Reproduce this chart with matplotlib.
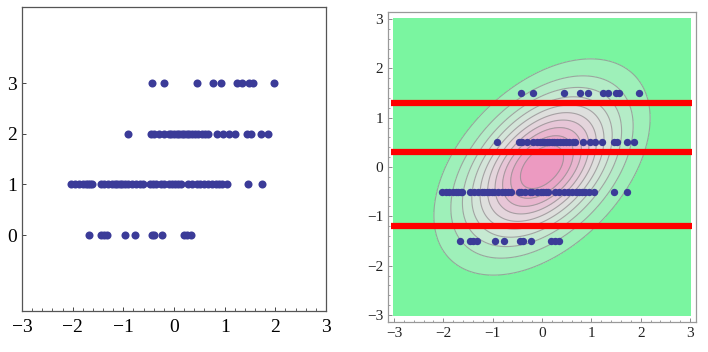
import matplotlib

matplotlib.use("Agg")
import matplotlib.pyplot as plt
import numpy as np
from matplotlib.ticker import MultipleLocator

plt.rcParams["font.family"] = ["Liberation Serif", "DejaVu Serif"]

# observed x values, one list per ordinal category (0..3)
cat0_x = [-1.67, -1.45, -1.39, -1.32, -0.96, -0.77, -0.44, -0.39, -0.23, 0.19, 0.26, 0.34]
cat1_x = [-2.03, -1.95, -1.88, -1.80, -1.74, -1.70, -1.65, -1.62,
          -1.45, -1.38, -1.30, -1.22, -1.17, -1.12, -1.07, -1.02, -0.97, -0.90, -0.82, -0.75, -0.68, -0.62,
          -0.47, -0.42, -0.35, -0.25, -0.20, -0.10, -0.03, 0.02, 0.08, 0.13,
          0.27, 0.35, 0.45, 0.52, 0.60, 0.68, 0.75, 0.82, 0.88, 0.95, 1.05,
          1.46, 1.73]
cat2_x = [-0.91,
          -0.46, -0.40, -0.30, -0.19, -0.10, -0.05, 0.00, 0.05, 0.10, 0.15, 0.20, 0.25, 0.30, 0.36, 0.42,
          0.48, 0.55, 0.62, 0.67,
          0.84, 0.97, 1.08, 1.21, 1.45, 1.52, 1.72, 1.86]
cat3_x = [-0.43, -0.19, 0.45, 0.76, 0.93, 1.24, 1.34, 1.49, 1.56, 1.97]

categories = [0, 1, 2, 3]
latent_y = [-1.5, -0.5, 0.5, 1.5]
thresholds = [-1.2, 0.3, 1.3]
rho = 0.45
n_contours = 10

DOT = "#3b3b98"
# fill colours from outside (green) to the centre (pink)
band_colors = ["#7af5a0", "#9ef0b9", "#b4ecc7", "#c6e9d1", "#d4e5d9", "#dedfdd",
               "#e4d5dc", "#e7c6d7", "#e9b6cf", "#eaa6c7", "#ec9ac1"]
rows = [cat0_x, cat1_x, cat2_x, cat3_x]
tick_labels = ["\u22123", "\u22122", "\u22121", "0", "1", "2", "3"]

fig = plt.figure(figsize=(7.08, 3.52), dpi=100)

# left: raw ordinal data
ax1 = fig.add_axes([22 / 708, 41 / 352, 304 / 708, 304 / 352])
for cat, xs in zip(categories, rows):
    ax1.plot(xs, [cat] * len(xs), "o", color=DOT, markersize=5.8, markeredgewidth=0)
ax1.set_xlim(-3, 3)
ax1.set_ylim(-1.5, 4.5)
ax1.set_xticks(range(-3, 4))
ax1.set_xticklabels(tick_labels)
ax1.xaxis.set_minor_locator(MultipleLocator(0.2))
ax1.set_yticks(categories)
ax1.tick_params(axis="both", direction="in", labelsize=14, length=3, width=0.7, colors="#444", labelcolor="black")
ax1.tick_params(axis="x", which="minor", direction="in", length=2, width=0.6, colors="#444")
ax1.tick_params(axis="x", pad=6)
for sp in ax1.spines.values():
    sp.set_color("#555")
    sp.set_linewidth(0.9)

# right: latent bivariate normal with thresholds
ax2 = fig.add_axes([388 / 708, 30 / 352, 308 / 708, 310 / 352])
g = np.linspace(-3, 3, 400)
X, Y = np.meshgrid(g, g)
Z = np.exp(-(X**2 - 2 * rho * X * Y + Y**2) / (2 * (1 - rho**2))) / (2 * np.pi * np.sqrt(1 - rho**2))
zmax = 1 / (2 * np.pi * np.sqrt(1 - rho**2))
levels = [zmax * k / (n_contours + 1) for k in range(1, n_contours + 1)]
ax2.contourf(X, Y, Z, levels=[0] + levels + [zmax * 1.01], colors=band_colors)
ax2.contour(X, Y, Z, levels=levels, colors="#909090", linewidths=0.8, alpha=0.75)
for t in thresholds:
    ax2.hlines(t, -3.06, 3.04, color="#ff0000", linewidth=4.5, zorder=3)
for ly, xs in zip(latent_y, rows):
    ax2.plot(xs, [ly] * len(xs), "o", color=DOT, markersize=5.3, markeredgewidth=0, zorder=4)
ax2.set_xlim(-3.12, 3.12)
ax2.set_ylim(-3.14, 3.14)
ax2.set_xticks(range(-3, 4))
ax2.set_xticklabels(tick_labels)
ax2.set_yticks(range(-3, 4))
ax2.set_yticklabels(tick_labels)
ax2.xaxis.set_minor_locator(MultipleLocator(0.2))
ax2.yaxis.set_minor_locator(MultipleLocator(0.2))
ax2.tick_params(axis="both", direction="in", labelsize=11, length=3, width=0.6, colors="#777", labelcolor="#222")
ax2.tick_params(axis="both", which="minor", direction="in", length=1.5, width=0.5, colors="#777")
for sp in ax2.spines.values():
    sp.set_color("#999")
    sp.set_linewidth(0.9)

fig.savefig("out.png", dpi=100)
